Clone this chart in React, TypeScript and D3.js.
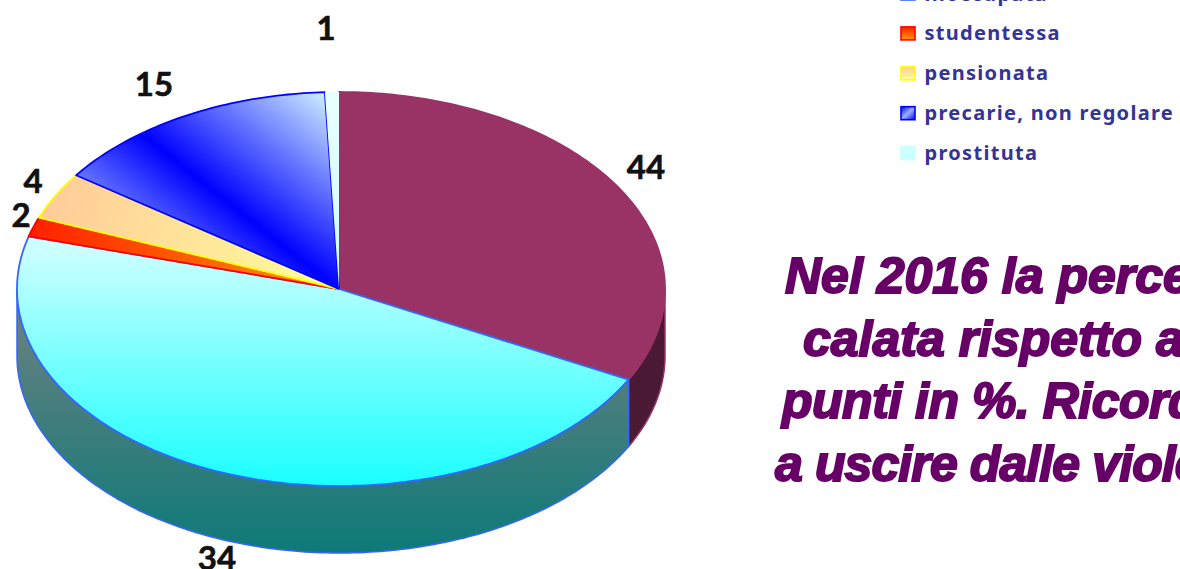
import React from "react";
import * as d3 from "d3";

const categories = ["altro", "inoccupata", "studentessa", "pensionata", "precarie, non regolare", "prostituta"];
const sliceShares = [32.6, 46.7, 1.6, 3.9, 14.5, 0.7];
const valueLabels = ["44", "34", "2", "4", "15", "1"];
const legendCategories = ["inoccupata", "studentessa", "pensionata", "precarie, non regolare", "prostituta"];
const messageLines = ["Nel 2016 la perce", "calata rispetto al", "punti in %. Ricord", "a uscire dalle viole"];

const W = 1180, H = 569;
const cx = 339, cy = 289, rxRight = 326, rxLeft = 322, ry = 197, depth = 67;
const labelPos: [number, number][] = [[646, 166], [217, 557], [21, 214], [33, 180], [154, 83], [326, 27]];
const messageX = [785, 803, 782, 775];
const messageY = [293, 356, 418, 481];
const messageSpacing = [0, 0, -0.5, -0.9];
const fills = ["#993366", "url(#gCyan)", "url(#gRed)", "url(#gYellow)", "url(#gBlue)", "url(#gPale)"];
const strokes = ["#993366", "#3366ff", "#ff0000", "#ffff00", "#0000ff", "none"];
const wallFills = ["#4a1a35", "url(#gWall)"];
const wallStrokes = ["#993366", "#3366ff"];
const legendFills: Record<string, string> = {
  inoccupata: "#ccffff", studentessa: "url(#lRed)", pensionata: "url(#lYellow)",
  "precarie, non regolare": "url(#lBlue)", prostituta: "#ccffff",
};
const legendStrokes: Record<string, string> = {
  inoccupata: "#3366ff", studentessa: "#ff0000", pensionata: "#ffff00",
  "precarie, non regolare": "#0000ff", prostituta: "#ccffff",
};

const pie = d3.pie<number>().sort(null).value((d) => d);
const arcs = pie(sliceShares);
const px = (a: number) => {
  const s = Math.sin(a);
  return cx + (s >= 0 ? rxRight : rxLeft) * s;
};
const py = (a: number) => cy - ry * Math.cos(a);

function topPath(a0: number, a1: number) {
  const n = Math.max(4, Math.ceil((a1 - a0) * 60));
  const pts = d3.range(n + 1).map((i) => {
    const a = a0 + ((a1 - a0) * i) / n;
    return [px(a), py(a)] as [number, number];
  });
  return `M${cx},${cy}L` + pts.map((p) => p.join(",")).join("L") + "Z";
}

function wallPath(a0: number, a1: number) {
  const s = Math.max(a0, Math.PI / 2), e = Math.min(a1, (3 * Math.PI) / 2);
  if (e <= s) return null;
  const n = Math.ceil((e - s) * 60);
  const top = d3.range(n + 1).map((i) => s + ((e - s) * i) / n);
  const up = top.map((a) => [px(a), py(a)].join(","));
  const down = top.slice().reverse().map((a) => [px(a), py(a) + depth].join(","));
  return "M" + up.concat(down).join("L") + "Z";
}

export default function App() {
  return (
    <svg width={W} height={H} viewBox={`0 0 ${W} ${H}`}
      style={{ position: "fixed", left: 0, top: 0, background: "#fff" }}>
      <defs>
        <linearGradient id="gCyan" gradientUnits="userSpaceOnUse" x1="0" y1="250" x2="0" y2="486">
          <stop offset="0" stopColor="#ccffff" /><stop offset="1" stopColor="#19ffff" />
        </linearGradient>
        <linearGradient id="gWall" gradientUnits="userSpaceOnUse" x1="0" y1="320" x2="0" y2="553">
          <stop offset="0" stopColor="#668080" /><stop offset="1" stopColor="#0d7a78" />
        </linearGradient>
        <linearGradient id="gRed" gradientUnits="userSpaceOnUse" x1="30" y1="225" x2="339" y2="289">
          <stop offset="0" stopColor="#ff2000" /><stop offset="1" stopColor="#ff9900" />
        </linearGradient>
        <linearGradient id="gYellow" gradientUnits="userSpaceOnUse" x1="50" y1="190" x2="339" y2="289">
          <stop offset="0" stopColor="#ffcc99" /><stop offset="1" stopColor="#ffff99" />
        </linearGradient>
        <linearGradient id="gBlue" gradientUnits="userSpaceOnUse" x1="150" y1="326" x2="330" y2="98">
          <stop offset="0" stopColor="#ccecff" /><stop offset="0.5" stopColor="#0000ff" /><stop offset="1" stopColor="#ccecff" />
        </linearGradient>
        <linearGradient id="gPale" gradientUnits="userSpaceOnUse" x1="320" y1="92" x2="339" y2="290">
          <stop offset="0" stopColor="#eaffff" /><stop offset="1" stopColor="#ccffff" />
        </linearGradient>
        <linearGradient id="lRed" x1="0" y1="0" x2="0" y2="1">
          <stop offset="0" stopColor="#ff2000" /><stop offset="1" stopColor="#ff9900" />
        </linearGradient>
        <linearGradient id="lYellow" x1="0" y1="0" x2="0" y2="1">
          <stop offset="0" stopColor="#ffcc99" /><stop offset="1" stopColor="#ffff99" />
        </linearGradient>
        <linearGradient id="lBlue" x1="0" y1="0" x2="1" y2="1">
          <stop offset="0" stopColor="#0000ff" /><stop offset="0.5" stopColor="#99b0ff" /><stop offset="1" stopColor="#0000ff" />
        </linearGradient>
      </defs>

      {arcs.map((d, i) => {
        const p = wallPath(d.startAngle, d.endAngle);
        return p ? <path key={categories[i]} d={p} fill={wallFills[i] ?? "#888"} stroke={wallStrokes[i] ?? "none"} strokeWidth={1.5} strokeLinejoin="round" /> : null;
      })}
      {arcs.map((d, i) => (
        <path key={categories[i]} d={topPath(d.startAngle, d.endAngle)} fill={fills[i]} stroke={strokes[i]} strokeWidth={1.8} strokeLinejoin="round" />
      ))}

      {valueLabels.map((t, i) => (
        <text key={i} x={labelPos[i][0]} y={labelPos[i][1]} textAnchor="middle" dominantBaseline="central"
          fontFamily="Lato" fontWeight={700} fontSize={33} fill="#111" stroke="#111" strokeWidth={0.6}>{t}</text>
      ))}

      {legendCategories.map((c, i) => (
        <g key={c} transform={`translate(901,${-6.5 + i * 39.9})`}>
          <rect x={0} y={-6.5} width={14} height={13} fill={legendFills[c]} stroke={legendStrokes[c]} strokeWidth={1.6} />
          <text x={23.5} y={7} fontFamily="Noto Sans" fontWeight={700} fontSize={20} letterSpacing={1.3} fill="#333399">{c}</text>
        </g>
      ))}

      {messageLines.map((t, i) => (
        <text key={i} x={messageX[i]} y={messageY[i]} fontFamily="Liberation Sans" fontWeight={700} fontStyle="italic"
          fontSize={50} letterSpacing={messageSpacing[i]} fill="#660066" stroke="#660066" strokeWidth={2}>{t}</text>
      ))}
    </svg>
  );
}
